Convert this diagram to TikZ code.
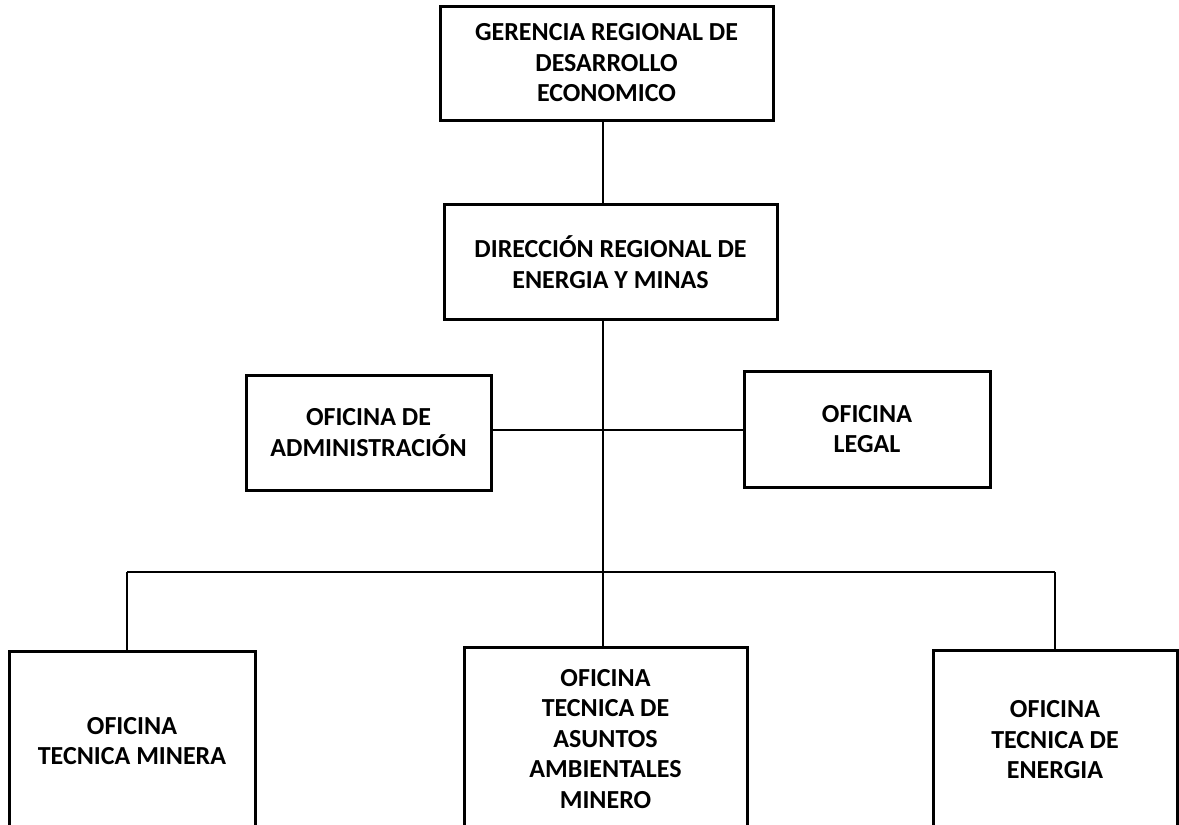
\documentclass[tikz,border=0pt]{standalone}
\usepackage{fontspec}
\setmainfont{Carlito}
\usepackage{tikz}
\usetikzlibrary{positioning,calc}

\begin{document}
\begin{tikzpicture}[
        line join=miter, x=1pt, y=-1pt,
        font=\bfseries\fontsize{26}{30.5}\selectfont,
        orgbox/.style={draw, line width=3pt, align=center, inner sep=0pt, minimum width=#1},
        conn/.style={draw, line width=1.3pt}
      ]
      % ---- page frame (pixel grid, y down) ----
      \useasboundingbox (0,0) rectangle (1179,825);
      \clip (0,0) rectangle (1179,825);

      %==================== TOP: gerencia and direccion ====================
      \node[orgbox=333pt, minimum height=114pt] (ger) at (606.5,63)
        {GERENCIA REGIONAL DE\\DESARROLLO\\ECONOMICO};
      \node[orgbox=333pt, minimum height=115pt] (dir) at (610.5,262)
        {DIRECCIÓN REGIONAL DE\\ENERGIA Y MINAS};

      %==================== MIDDLE: staff offices ====================
      \node[orgbox=245pt, minimum height=115pt] (adm) at (368.5,432.5)
        {OFICINA DE\\ADMINISTRACIÓN};
      \node[orgbox=246pt, minimum height=116pt] (leg) at (867,429)
        {OFICINA\\LEGAL};

      %==================== BOTTOM: technical offices ====================
      \node[orgbox=246pt, minimum height=180pt] (min) at (132,741)
        {OFICINA\\TECNICA MINERA};
      \node[orgbox=283pt, minimum height=184pt] (amb) at (605.5,739)
        {OFICINA\\TECNICA DE\\ASUNTOS\\AMBIENTALES\\MINERO};
      \node[orgbox=244pt, minimum height=180pt] (ene) at (1055,740)
        {OFICINA\\TECNICA DE\\ENERGIA};

      % ---- helpers for the connectors ----
      \coordinate (side) at (603,430);
      \coordinate (bus)  at (603,572);
      \coordinate (busL) at (127,572);
      \coordinate (busR) at (1055,572);

      % main trunk
      \draw[conn] (ger.south -| bus) -- (dir.north -| bus);
      \draw[conn] (dir.south -| bus) -- (amb.north -| bus);

      % staff line
      \draw[conn] (adm.east |- side) -- (leg.west |- side);

      % bus to the lower offices
      \draw[conn] (busL) -- (busR);
      \draw[conn] (busL) -- (busL |- min.north);
      \draw[conn] (busR) -- (busR |- ene.north);

    \end{tikzpicture}
\end{document}
